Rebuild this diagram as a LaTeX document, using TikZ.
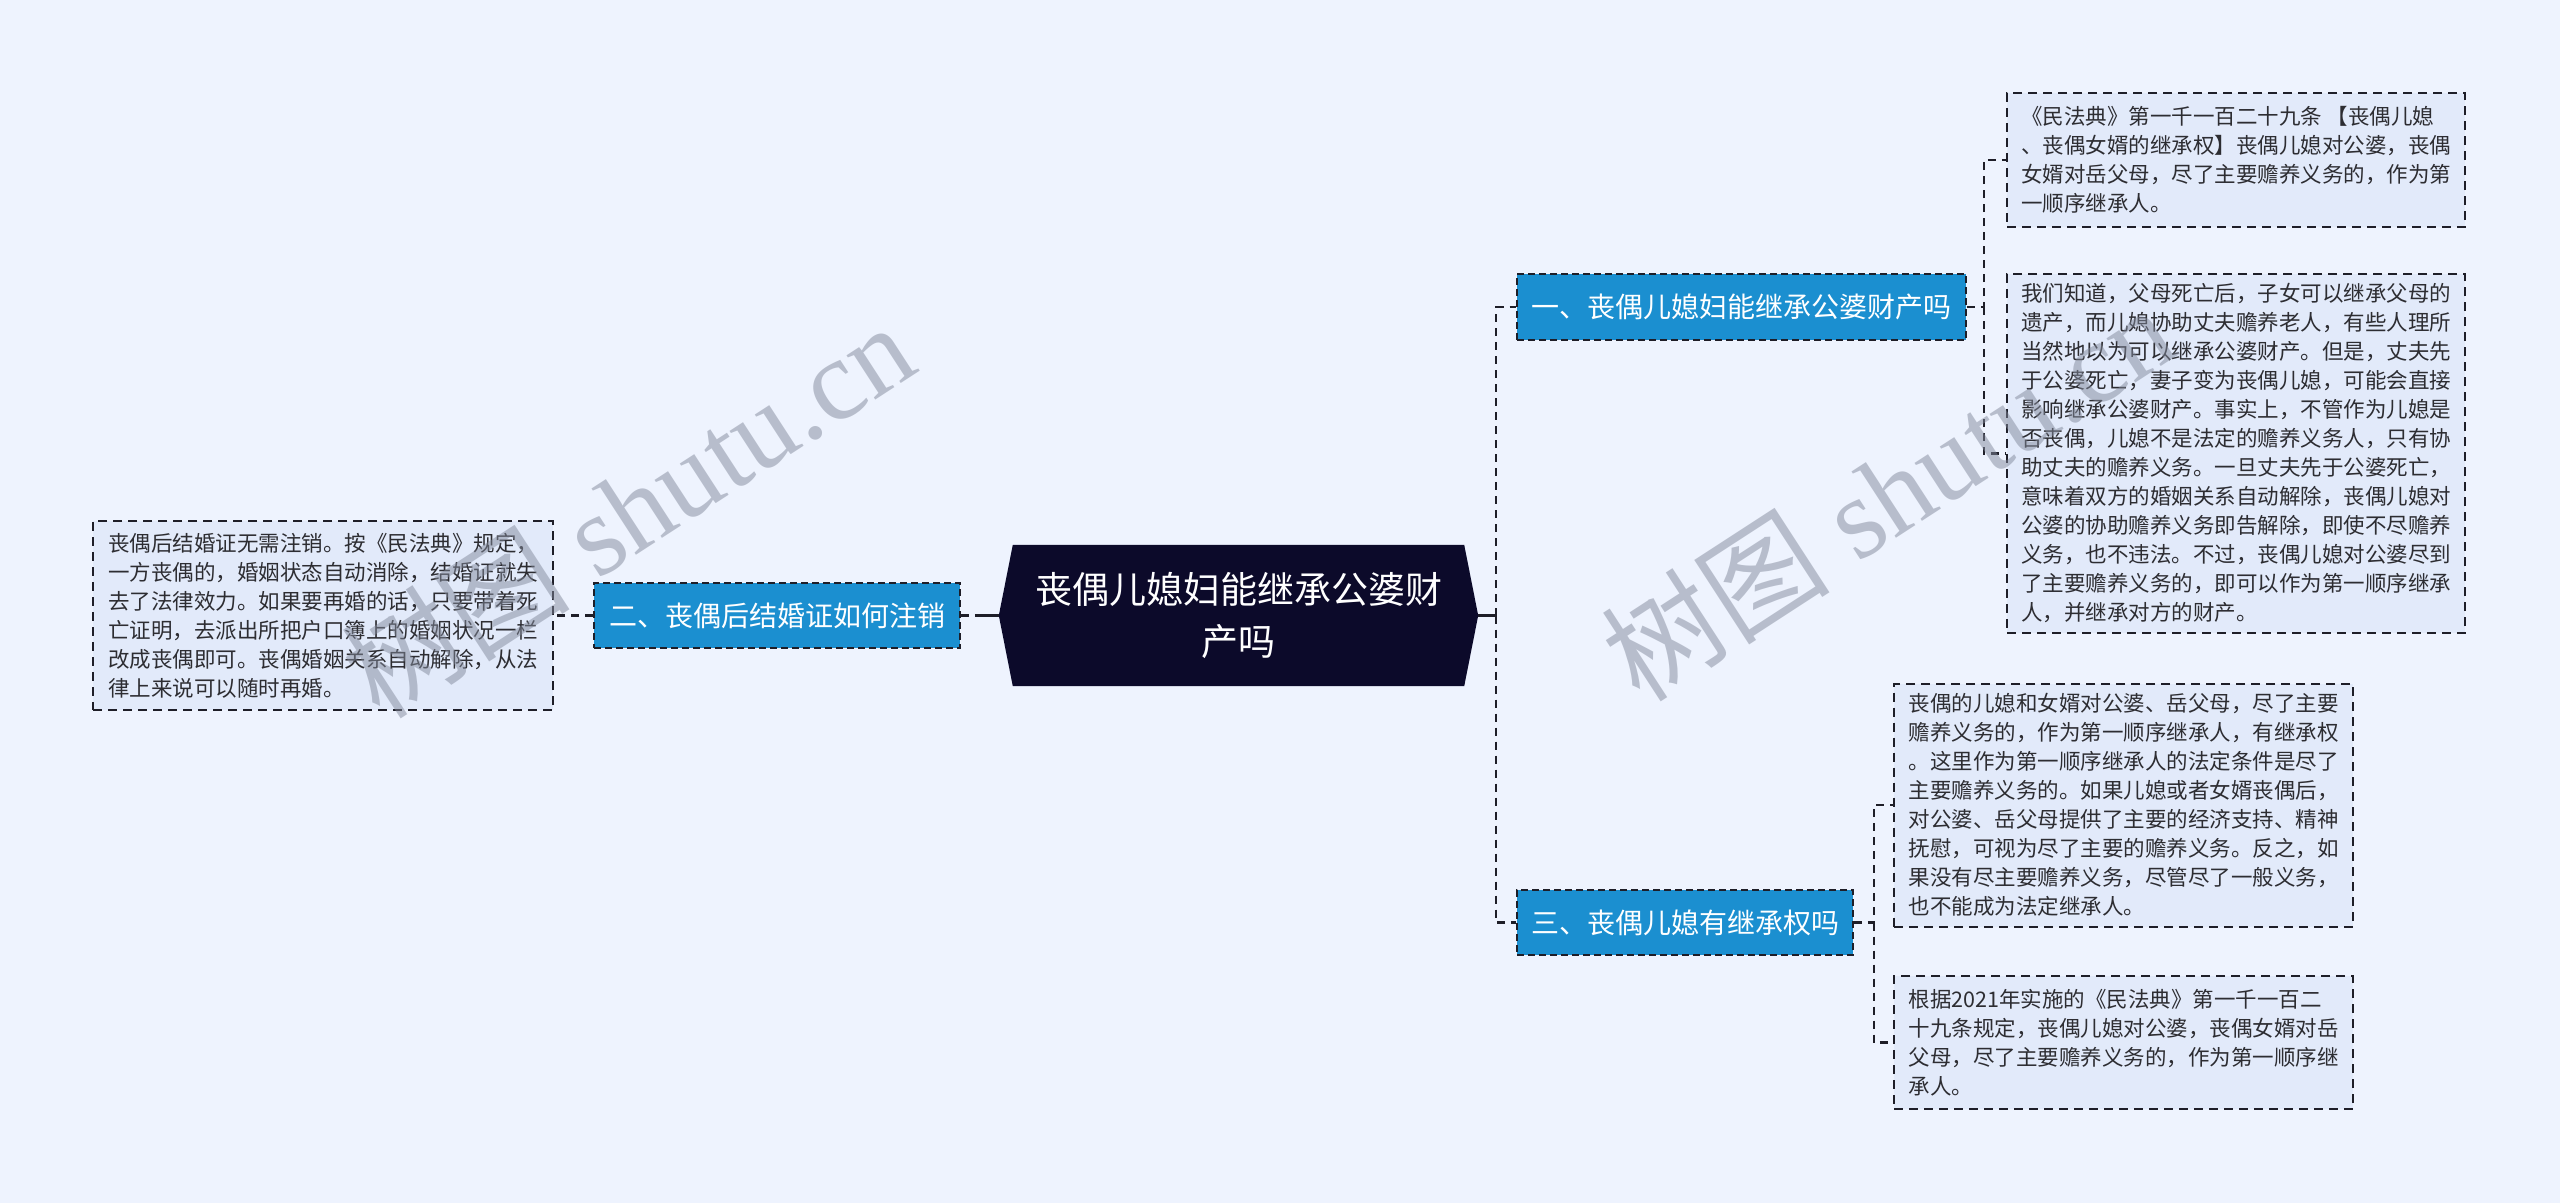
\documentclass[tikz,border=0pt]{standalone}
\usepackage{fontspec}
\setmainfont{Liberation Serif}
\newfontfamily\cjk{Noto Sans CJK SC}
\usetikzlibrary{backgrounds}
\definecolor{bgc}{RGB}{238,243,254}
\definecolor{leafc}{RGB}{226,234,250}
\definecolor{bluec}{RGB}{27,143,208}
\definecolor{darkc}{RGB}{12,10,42}
\definecolor{linec}{RGB}{30,30,40}
\definecolor{textc}{RGB}{45,45,50}
\definecolor{wmc}{RGB}{130,137,155}
\tikzset{
  leaf/.style={draw=linec, line width=2pt, dash pattern=on 9pt off 6pt, fill=leafc,
    align=left, inner sep=0pt, text=textc, font={\cjk\fontsize{21.5}{29}\selectfont}},
  topic/.style={draw=linec, line width=1.8pt, dash pattern=on 7pt off 4pt, fill=bluec,
    align=center, inner sep=0pt, text=white, font={\cjk\fontsize{28}{34}\selectfont}},
  conn/.style={draw=linec, line width=2.5pt, dash pattern=on 8pt off 6pt},
  stub/.style={draw=linec, line width=3pt},
  wm/.style={text=wmc, opacity=0.5, rotate=33, anchor=base west, inner sep=0pt}
}
\begin{document}
\begin{tikzpicture}[x=1pt,y=-1pt]
\useasboundingbox (0,0) rectangle (2560,1203);

% central node
\node[align=center, inner sep=0pt, minimum width=479pt, minimum height=141pt, text=white,
  font={\cjk\fontsize{37}{52}\selectfont}] (c) at (1238.5,615.5) {丧偶儿媳妇能继承公婆财\\产吗};
\begin{scope}[on background layer]
\fill[bgc] (0,0) rectangle (2560,1203);
\fill[darkc] (c.west) -- ([xshift=14pt]c.north west) -- ([xshift=-14pt]c.north east) -- (c.east)
  -- ([xshift=-14pt]c.south east) -- ([xshift=14pt]c.south west) -- cycle;
\end{scope}

% topics
\node[topic, minimum width=449pt, minimum height=66pt] (n1) at (1741.5,307) {一、丧偶儿媳妇能继承公婆财产吗};
\node[topic, minimum width=366pt, minimum height=65pt] (n2) at (777,615.5) {二、丧偶后结婚证如何注销};
\node[topic, minimum width=336pt, minimum height=65pt] (n3) at (1685,922.5) {三、丧偶儿媳有继承权吗};

% leaves
\node[leaf, minimum width=458pt, minimum height=134pt] (l1a) at (2236,160) {《民法典》第一千一百二十九条 【丧偶儿媳\\、丧偶女婿的继承权】丧偶儿媳对公婆，丧偶\\女婿对岳父母，尽了主要赡养义务的，作为第\\一顺序继承人。};
\node[leaf, minimum width=458pt, minimum height=359pt] (l1b) at (2236,453.5) {我们知道，父母死亡后，子女可以继承父母的\\遗产，而儿媳协助丈夫赡养老人，有些人理所\\当然地以为可以继承公婆财产。但是，丈夫先\\于公婆死亡，妻子变为丧偶儿媳，可能会直接\\影响继承公婆财产。事实上，不管作为儿媳是\\否丧偶，儿媳不是法定的赡养义务人，只有协\\助丈夫的赡养义务。一旦丈夫先于公婆死亡，\\意味着双方的婚姻关系自动解除，丧偶儿媳对\\公婆的协助赡养义务即告解除，即使不尽赡养\\义务，也不违法。不过，丧偶儿媳对公婆尽到\\了主要赡养义务的，即可以作为第一顺序继承\\人，并继承对方的财产。};
\node[leaf, minimum width=459pt, minimum height=243pt] (l3a) at (2123.5,805) {丧偶的儿媳和女婿对公婆、岳父母，尽了主要\\赡养义务的，作为第一顺序继承人，有继承权\\。这里作为第一顺序继承人的法定条件是尽了\\主要赡养义务的。如果儿媳或者女婿丧偶后，\\对公婆、岳父母提供了主要的经济支持、精神\\抚慰，可视为尽了主要的赡养义务。反之，如\\果没有尽主要赡养义务，尽管尽了一般义务，\\也不能成为法定继承人。};
\node[leaf, minimum width=459pt, minimum height=133pt] (l3b) at (2123.5,1042.5) {根据2021年实施的《民法典》第一千一百二\\十九条规定，丧偶儿媳对公婆，丧偶女婿对岳\\父母，尽了主要赡养义务的，作为第一顺序继\\承人。};
\node[leaf, minimum width=460pt, minimum height=189pt] (ll) at (323,615.5) {丧偶后结婚证无需注销。按《民法典》规定，\\一方丧偶的，婚姻状态自动消除，结婚证就失\\去了法律效力。如果要再婚的话，只要带着死\\亡证明，去派出所把户口簿上的婚姻状况一栏\\改成丧偶即可。丧偶婚姻关系自动解除，从法\\律上来说可以随时再婚。};

% connectors
\draw[conn] ([xshift=18pt]c.east) |- (n1.west);
\draw[conn] ([xshift=18pt]c.east) |- (n3.west);
\draw[stub] (c.east) -- ++(18,0);
\draw[conn] (n2.east) -- (c.west);
\draw[stub] (c.west) -- ++(-22,0);
\draw[conn] (n2.west) -- (ll.east);
\draw[conn] (n1.east) -- ++(17,0) |- (l1a.west);
\draw[conn] ([xshift=17pt]n1.east) |- (l1b.west);
\draw[conn] (n3.east) -- ++(20,0) |- (l3a.west);
\draw[conn] ([xshift=20pt]n3.east) |- (l3b.west);

% watermarks
\node[wm] (w1) at (380,722) {\fontsize{115}{115}\selectfont{\cjk 树图} shutu.cn};
\node[wm] (w2) at (1640,705) {\fontsize{115}{115}\selectfont{\cjk 树图} shutu.cn};
\end{tikzpicture}
\end{document}
